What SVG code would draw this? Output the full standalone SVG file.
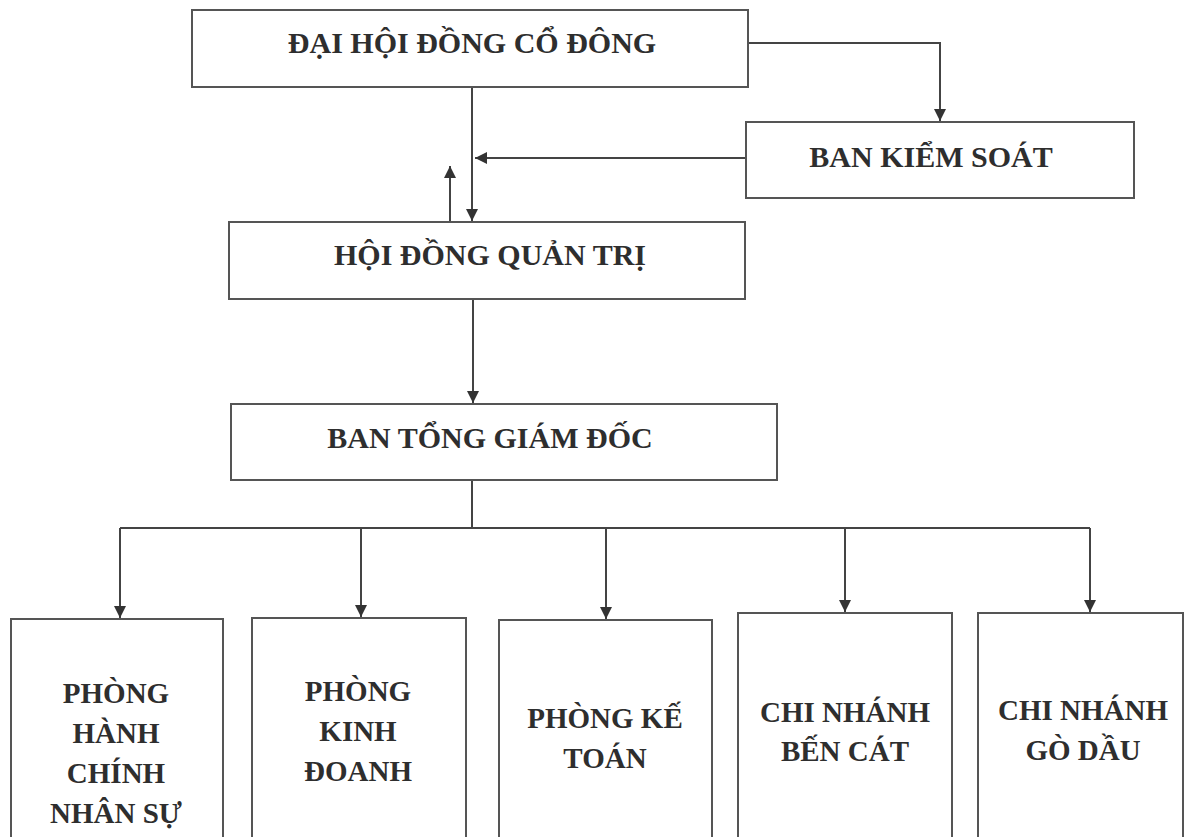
<svg xmlns="http://www.w3.org/2000/svg" width="1185" height="837" viewBox="0 0 1185 837">
<style>
.box{fill:#fff;stroke:#555;stroke-width:2}
.t{font-family:"Liberation Serif","Times New Roman",serif;font-weight:bold;font-size:30px;fill:#2e2e2e;text-anchor:middle}
.s{font-size:29px}
.c{fill:none;stroke:#444;stroke-width:2}
</style>
<defs>
<marker id="ah" viewBox="0 0 12 12" refX="12" refY="6" markerWidth="12" markerHeight="12" markerUnits="userSpaceOnUse" orient="auto">
<path d="M0,0 L12,6 L0,12 Z" fill="#333"/>
</marker>
</defs>
<rect width="1185" height="837" fill="#fff"/>
<g id="connectors">
<path class="c" d="M748,43 H940 V121" marker-end="url(#ah)"/>
<path class="c" d="M746,158 H475" marker-end="url(#ah)"/>
<path class="c" d="M472,87 V221" marker-end="url(#ah)"/>
<path class="c" d="M450,222 V166" marker-end="url(#ah)"/>
<path class="c" d="M473,299 V403" marker-end="url(#ah)"/>
<path class="c" d="M472,480 V528"/>
<path class="c" d="M120,528 H1090"/>
<path class="c" d="M120,528 V618" marker-end="url(#ah)"/>
<path class="c" d="M361,528 V617" marker-end="url(#ah)"/>
<path class="c" d="M606,528 V619" marker-end="url(#ah)"/>
<path class="c" d="M845,528 V612" marker-end="url(#ah)"/>
<path class="c" d="M1090,528 V612" marker-end="url(#ah)"/>
</g>
<g id="dhdcd"><rect class="box" x="192" y="10" width="556" height="77"/><text class="t" x="472" y="53">ĐẠI HỘI ĐỒNG CỔ ĐÔNG</text></g>
<g id="bks"><rect class="box" x="746" y="122" width="388" height="76"/><text class="t" x="931" y="167">BAN KIỂM SOÁT</text></g>
<g id="hdqt"><rect class="box" x="229" y="222" width="516" height="77"/><text class="t" x="490" y="265">HỘI ĐỒNG QUẢN TRỊ</text></g>
<g id="btgd"><rect class="box" x="231" y="404" width="546" height="76"/><text class="t" x="490" y="448">BAN TỔNG GIÁM ĐỐC</text></g>
<g id="phcns"><rect class="box" x="11" y="619" width="212" height="230"/><text class="t s" x="116"><tspan x="116" y="703">PHÒNG</tspan><tspan x="116" y="743">HÀNH</tspan><tspan x="116" y="783">CHÍNH</tspan><tspan x="116" y="823">NHÂN SỰ</tspan></text></g>
<g id="pkd"><rect class="box" x="252" y="618" width="214" height="230"/><text class="t s" x="358"><tspan x="358" y="701">PHÒNG</tspan><tspan x="358" y="741">KINH</tspan><tspan x="358" y="781">ĐOANH</tspan></text></g>
<g id="pkt"><rect class="box" x="499" y="620" width="213" height="230"/><text class="t s" x="605"><tspan x="605" y="728">PHÒNG KẾ</tspan><tspan x="605" y="768">TOÁN</tspan></text></g>
<g id="cnbc"><rect class="box" x="738" y="613" width="214" height="230"/><text class="t s" x="845"><tspan x="845" y="722">CHI NHÁNH</tspan><tspan x="845" y="761">BẾN CÁT</tspan></text></g>
<g id="cngd"><rect class="box" x="978" y="613" width="205" height="230"/><text class="t s" x="1083"><tspan x="1083" y="720">CHI NHÁNH</tspan><tspan x="1083" y="760">GÒ DẦU</tspan></text></g>
</svg>
